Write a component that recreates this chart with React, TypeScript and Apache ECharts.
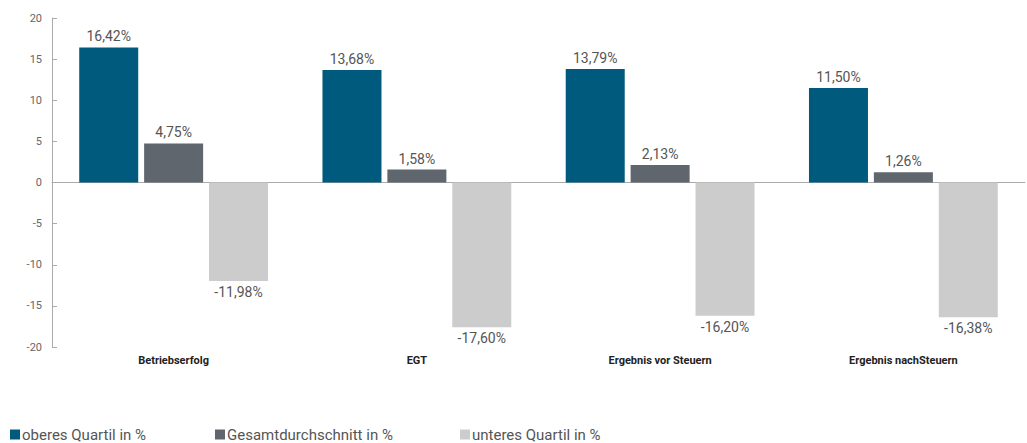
import React, { useEffect, useRef } from "react";
import * as echarts from "echarts";

const categories = ["Betriebserfolg", "EGT", "Ergebnis vor Steuern", "Ergebnis nachSteuern"];
const seriesNames = ["oberes Quartil in %", "Gesamtdurchschnitt in %", "unteres Quartil in %"];
const oberesQuartil = [16.42, 13.68, 13.79, 11.5];
const gesamtdurchschnitt = [4.75, 1.58, 2.13, 1.26];
const unteresQuartil = [-11.98, -17.6, -16.2, -16.38];
const colors = ["#005a7d", "#5f666d", "#cccccc"];
const legendLefts = [10, 215, 460];

const fmt = (v: number) => v.toFixed(2).replace(".", ",") + "%";

export default function App() {
  const ref = useRef<HTMLDivElement>(null);
  useEffect(() => {
    if (!ref.current) return;
    const chart = echarts.init(ref.current, undefined, { renderer: "svg" });
    const font = "Roboto, 'DejaVu Sans', sans-serif";
    const mkLabel = (pos: string) => ({
      show: true,
      position: pos,
      distance: 4,
      color: "#555",
      fontSize: 14,
      fontFamily: font,
      formatter: (p: any) => fmt(p.value),
    });
    const datas = [oberesQuartil, gesamtdurchschnitt, unteresQuartil];
    chart.setOption({
      animation: false,
      color: colors,
      grid: { left: 52, right: 2, top: 18, bottom: 96, containLabel: false },
      legend: seriesNames.map((n, i) => ({
        left: legendLefts[i],
        top: 427,
        padding: 0,
        itemWidth: 10,
        itemHeight: 10,
        icon: "rect",
        textStyle: { color: "#555", fontSize: 15, lineHeight: 15, fontFamily: font, padding: [0, 0, 0, -3] },
        data: [n],
      })),
      xAxis: {
        type: "category",
        data: categories,
        axisLine: { onZero: true, lineStyle: { color: "#aaa", width: 1 } },
        axisTick: { show: false },
        axisLabel: {
          color: "#222",
          fontSize: 11,
          fontWeight: "bold",
          fontFamily: font,
          interval: 0,
          margin: 8,
        },
        position: "bottom",
      },
      yAxis: {
        type: "value",
        min: -20,
        max: 20,
        interval: 5,
        axisLine: { show: true, lineStyle: { color: "#aaa" } },
        axisTick: { show: true, inside: true, length: 5, lineStyle: { color: "#aaa" } },
        splitLine: { show: false },
        axisLabel: { color: "#666", fontSize: 11, fontFamily: font, margin: 10 },
      },
      series: datas.map((d, i) => ({
        name: seriesNames[i],
        type: "bar",
        data: d,
        barWidth: 59,
        barGap: "10%",
        label: mkLabel(i === 2 ? "bottom" : "top"),
      })),
    });
    return () => chart.dispose();
  }, []);
  return <div ref={ref} style={{ width: 1027, height: 443, position: "absolute", left: 0, top: 0 }} />;
}
